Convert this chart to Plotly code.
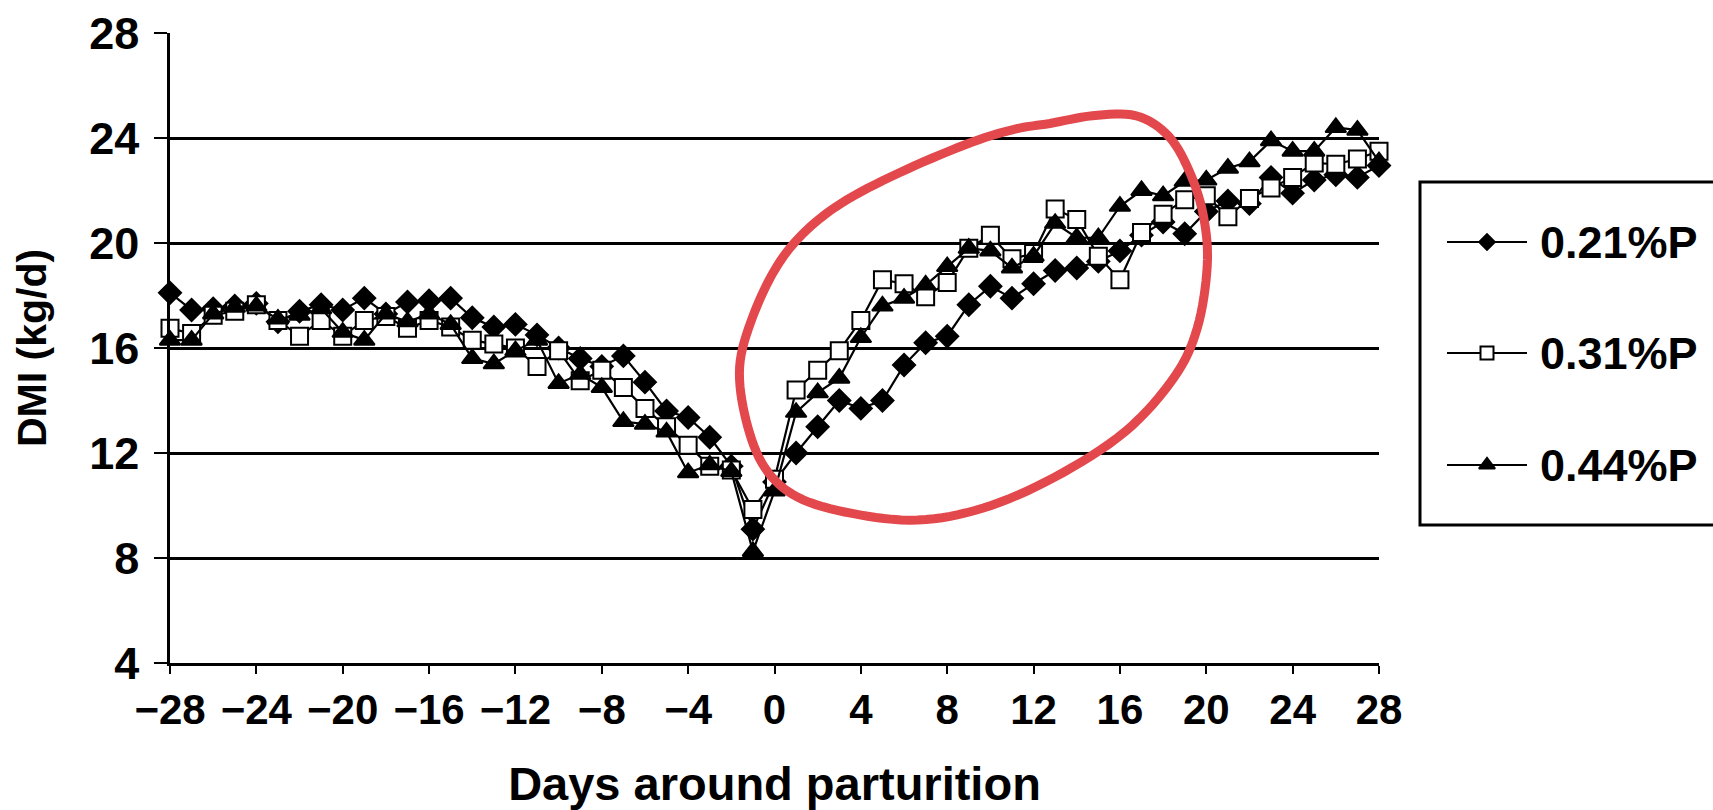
import numpy as np
import plotly.graph_objects as go

days = list(range(-28, 29))
x_ticks = list(range(-28, 29, 4))
y_ticks = list(range(4, 29, 4))

dmi_021 = [18.1, 17.45, 17.5, 17.6, 17.7, 17.0, 17.4, 17.65, 17.45, 17.9,
           17.3, 17.75, 17.8, 17.9, 17.15, 16.8, 16.9, 16.5, 16.0, 15.6,
           15.3, 15.7, 14.7, 13.6, 13.35, 12.6, 11.5, 9.1, 10.9, 12.0,
           13.0, 14.0, 13.7, 14.0, 15.35, 16.2, 16.45, 17.65, 18.35, 17.9,
           18.45, 18.95, 19.05, 19.3, 19.7, 20.3, 20.8, 20.35, 21.2, 21.6,
           21.5, 22.5, 21.9, 22.4, 22.6, 22.5, 22.95]
dmi_031 = [16.75, 16.55, 17.25, 17.4, 17.65, 17.05, 16.45, 17.05, 16.45, 17.05,
           17.2, 16.75, 17.05, 16.8, 16.3, 16.15, 16.0, 15.3, 15.9, 14.75,
           15.15, 14.5, 13.7, 13.0, 12.3, 11.5, 11.35, 9.85, 11.0, 14.4,
           15.15, 15.9, 17.05, 18.6, 18.45, 17.95, 18.5, 19.8, 20.3, 19.4,
           19.6, 21.3, 20.9, 19.5, 18.6, 20.4, 21.1, 21.65, 21.8, 21.0,
           21.7, 22.1, 22.5, 23.05, 23.0, 23.2, 23.5]
dmi_044 = [16.3, 16.3, 17.3, 17.55, 17.6, 17.1, 17.25, 17.5, 16.6, 16.3,
           17.3, 17.0, 17.3, 16.9, 15.6, 15.4, 15.9, 16.3, 14.65, 15.0,
           14.5, 13.2, 13.1, 12.8, 11.25, 11.55, 11.3, 8.25, 10.55, 13.55,
           14.3, 14.85, 16.4, 17.6, 17.9, 18.4, 19.1, 19.8, 19.7, 19.05,
           19.5, 20.75, 20.2, 20.2, 21.4, 22.0, 21.8, 22.35, 22.4, 22.85,
           23.1, 23.9, 23.5, 23.5, 24.4, 24.3, 23.1]

series_names = ["0.21%P", "0.31%P", "0.44%P"]
series_values = [dmi_021, dmi_031, dmi_044]
symbols = ["diamond", "square", "triangle-up"]
fills = ["black", "white", "black"]
sizes = [17, 17, 18]
legend_sizes = [12, 13, 14]

# hand-drawn red outline (screen positions on a 1568-px-wide view)
outline_px = [(961, 113), (1000, 106), (1040, 106), (1070, 125), (1090, 160),
              (1102, 200), (1105, 244), (1096, 300), (1075, 345), (1030, 395),
              (965, 437), (900, 465), (840, 476), (780, 470), (730, 455),
              (700, 428), (683, 385), (677, 336), (689, 290), (711, 244),
              (738, 211), (775, 183), (830, 155), (890, 130), (930, 118)]

FONT = "Liberation Sans, Arial, sans-serif"

fig = go.Figure()
for name, vals, sym, fc, sz in zip(series_names, series_values, symbols, fills, sizes):
    fig.add_trace(go.Scatter(
        x=days, y=vals, mode="lines+markers", name=name, showlegend=False,
        line=dict(color="black", width=2.2),
        marker=dict(symbol=sym, size=sz, color=fc, line=dict(color="black", width=2)),
        cliponaxis=False, xaxis="x", yaxis="y"))

# custom legend (in its own pixel-like axes)
leg_y = [283, 172, 60]
for name, sym, fc, sz, ly in zip(series_names, symbols, fills, legend_sizes, leg_y):
    fig.add_trace(go.Scatter(
        x=[27, 67, 107], y=[ly, ly, ly], mode="lines", showlegend=False,
        line=dict(color="black", width=2), xaxis="x2", yaxis="y2", hoverinfo="skip"))
    fig.add_trace(go.Scatter(
        x=[67], y=[ly], mode="markers", showlegend=False,
        marker=dict(symbol=sym, size=sz, color=fc, line=dict(color="black", width=2)),
        xaxis="x2", yaxis="y2", hoverinfo="skip"))
    fig.add_annotation(x=118, y=ly, xref="x2", yref="y2", text=name, showarrow=False,
                       xanchor="left", yanchor="middle",
                       font=dict(family=FONT, size=45, color="black", weight="bold"))

# closed Catmull-Rom spline through the outline points -> data coords
P = np.array(outline_px, dtype=float) * (1713 / 1568)
n = len(P)
pts = []
for i in range(n):
    p0, p1, p2, p3 = P[(i - 1) % n], P[i], P[(i + 1) % n], P[(i + 2) % n]
    for s in np.linspace(0, 1, 8, endpoint=False):
        s2, s3 = s * s, s * s * s
        pts.append(0.5 * ((2 * p1) + (-p0 + p2) * s + (2 * p0 - 5 * p1 + 4 * p2 - p3) * s2
                          + (-p0 + 3 * p1 - 3 * p2 + p3) * s3))
pts = np.array(pts)
xd = (pts[:, 0] - 170) / (1209 / 56) - 28
yd = 28 - (pts[:, 1] - 33) / (630 / 24)
path = "M " + " L ".join(f"{u:.3f},{v:.3f}" for u, v in zip(xd, yd)) + " Z"
fig.add_shape(type="path", path=path, xref="x", yref="y",
              line=dict(color="rgb(226,72,76)", width=9), layer="above")

# legend box
fig.add_shape(type="rect", xref="paper", yref="paper",
              x0=(1420 - 170) / 1543, x1=1.05, y0=(663 - 525) / 630, y1=(663 - 182) / 630,
              line=dict(color="black", width=3), fillcolor="rgba(0,0,0,0)")

fig.update_layout(
    width=1713, height=810,
    margin=dict(l=170, r=0, t=33, b=147, autoexpand=False),
    paper_bgcolor="white", plot_bgcolor="white",
    font=dict(family=FONT, size=40, color="black", weight="bold"),
    xaxis=dict(domain=[0, (1379 - 170) / 1543], range=[-28, 28], tickvals=x_ticks,
               ticks="outside", ticklen=8, tickwidth=2, tickcolor="black",
               showline=True, linecolor="black", linewidth=2.5, showgrid=False, zeroline=False,
               automargin=False,
               tickfont=dict(family=FONT, size=42, color="black", weight="bold"),
               title=dict(text="Days around parturition", standoff=36,
                          font=dict(family=FONT, size=47, color="black", weight="bold"))),
    yaxis=dict(range=[4, 28], tickvals=y_ticks,
               ticks="outside", ticklen=13, tickwidth=2, tickcolor="black",
               showline=True, linecolor="black", linewidth=2.5,
               showgrid=True, gridcolor="black", gridwidth=2.5, zeroline=False,
               ticklabelstandoff=6, automargin=False,
               tickfont=dict(family=FONT, size=45, color="black", weight="bold"),
               title=dict(text="DMI (kg/d)", standoff=30,
                          font=dict(family=FONT, size=41, color="black", weight="bold"))),
    xaxis2=dict(domain=[(1420 - 170) / 1543, 1.0], range=[0, 293], visible=False,
                fixedrange=True, anchor="y2"),
    yaxis2=dict(domain=[(663 - 525) / 630, (663 - 182) / 630], range=[0, 343], visible=False,
                fixedrange=True, anchor="x2"),
)

fig.write_html("out.html")
